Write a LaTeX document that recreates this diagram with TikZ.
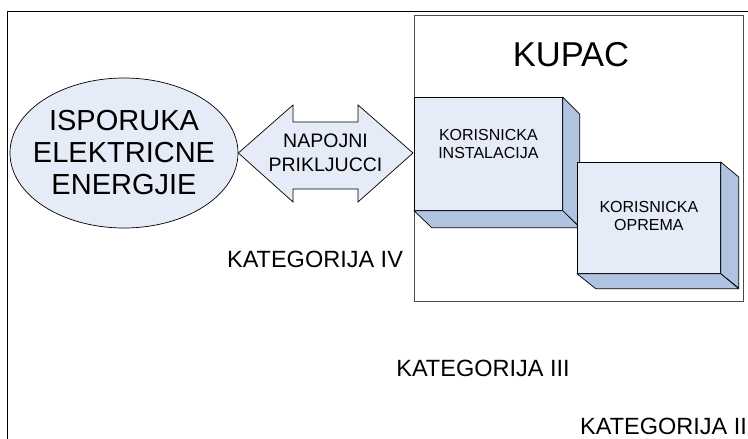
\documentclass[tikz,border=0pt]{standalone}
\usepackage{fontspec}
\setmainfont{Liberation Sans}
\usetikzlibrary{shapes.geometric}

\definecolor{plavasvetla}{RGB}{230,236,247}
\definecolor{plavatamna}{RGB}{176,196,226}
\tikzset{
  lice/.style={draw, fill=plavasvetla, line width=0.7pt},
  bok/.style={draw, fill=plavatamna, line width=0.7pt, line join=round},
  natpis/.style={font=\fontsize{23.5}{26}\selectfont},
}

\begin{document}
\begin{tikzpicture}[x=1pt, y=-1pt]
  \useasboundingbox (0,0) rectangle (748,439);
  % okvir
  \draw[line width=0.8pt] (7,439) -- (7,11) -- (748,11);
  % kupac
  \draw[line width=0.8pt, black!70] (414,15) rectangle (743,301);
  \node[font=\fontsize{34.5}{40}\selectfont] (kupac) at (571,55) {KUPAC};
  % isporuka
  \node[ellipse, lice, minimum width=228pt, minimum height=150pt,
    inner xsep=-14pt, inner ysep=0pt,
    align=center, font=\fontsize{29}{32}\selectfont] (isporuka) at (124,153)
    {ISPORUKA\\ELEKTRICNE\\ENERGJIE};
  % napojni prikljucci
  \draw[lice, line join=miter] (isporuka.east) -- (293,105) -- (293,122) -- (358,122)
    -- (358,105) -- (413,153) -- (358,202) -- (358,189) -- (293,189) -- (293,202) -- cycle;
  \node[align=center, font=\fontsize{19.5}{24}\selectfont] (prikljucci) at (325.5,153)
    {NAPOJNI\\PRIKLJUCCI};
  % korisnicka instalacija
  \node[lice, anchor=north west, minimum width=148pt, minimum height=113pt,
    inner sep=0pt] (instalacija) at (414,97) {};
  \draw[bok] (instalacija.north east) -- ++(17,17) -- ++(0,113)
    -- (instalacija.south east) -- cycle;
  \draw[bok] (instalacija.south west) -- (instalacija.south east) -- ++(17,17)
    -- ++(-148,0) -- cycle;
  \node[align=center, font=\fontsize{16}{18}\selectfont]
    at ([yshift=9.5pt]instalacija.center) {KORISNICKA\\INSTALACIJA};
  % korisnicka oprema
  \node[lice, anchor=north west, minimum width=143pt, minimum height=111pt,
    inner sep=0pt] (oprema) at (577,162) {};
  \draw[bok] (oprema.north east) -- ++(18,15) -- ++(0,111)
    -- (oprema.south east) -- cycle;
  \draw[bok] (oprema.south west) -- (oprema.south east) -- ++(18,15)
    -- ++(-143,0) -- cycle;
  \node[align=center, font=\fontsize{16}{18}\selectfont]
    at ([yshift=1.5pt]oprema.center) {KORISNICKA\\OPREMA};
  % kategorije
  \node[natpis] (katIV) at (315,259) {KATEGORIJA IV};
  \node[natpis] (katIII) at (483,368) {KATEGORIJA III};
  \node[natpis] (katII) at (663.5,426) {KATEGORIJA II};
\end{tikzpicture}
\end{document}
